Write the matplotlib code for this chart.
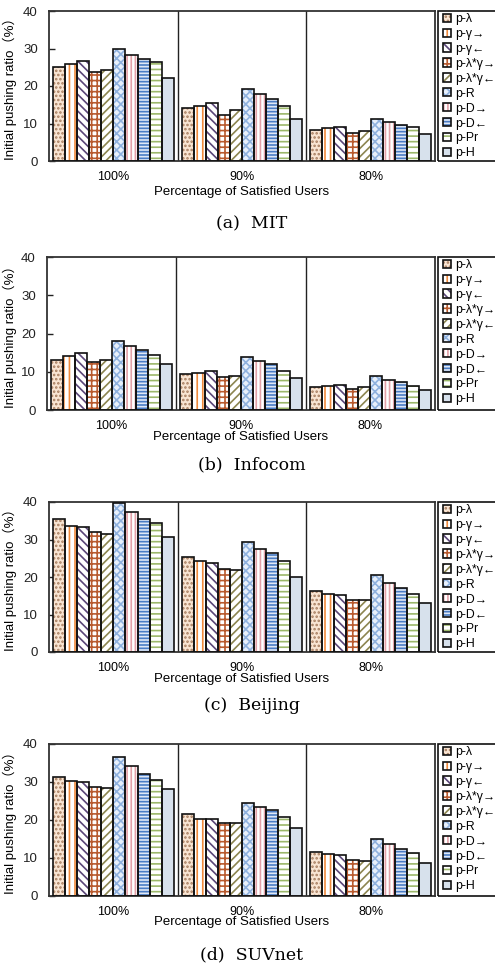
import matplotlib
matplotlib.use("Agg")
import matplotlib.pyplot as plt
from matplotlib.patches import Rectangle
from matplotlib.legend_handler import HandlerTuple
import numpy as np

plt.rcParams['font.family'] = ['Liberation Sans', 'DejaVu Sans']
plt.rcParams['hatch.linewidth'] = 1.2

# ---- data -------------------------------------------------------------
groups = ['100%', '90%', '80%']
methods = ['p-λ', 'p-γ→', 'p-γ←', 'p-λ*γ→', 'p-λ*γ←',
           'p-R', 'p-D→', 'p-D←', 'p-Pr', 'p-H']
yticks = [0, 10, 20, 30, 40]

# initial pushing ratio (%) per satisfied-user level, one row per group
mit = [[25.2, 26.0, 26.7, 23.7, 24.4, 29.8, 28.3, 27.2, 26.3, 22.2],
       [14.2, 14.8, 15.5, 12.3, 13.5, 19.1, 17.8, 16.6, 14.6, 11.2],
       [8.3, 8.9, 9.2, 7.5, 8.1, 11.1, 10.4, 9.6, 9.1, 7.1]]
infocom = [[13.2, 14.1, 14.8, 12.5, 13.2, 18.1, 16.7, 15.8, 14.3, 11.9],
           [9.3, 9.8, 10.3, 8.5, 9.0, 13.8, 12.8, 11.9, 10.2, 8.3],
           [5.9, 6.3, 6.6, 5.4, 5.9, 9.0, 7.8, 7.3, 6.4, 5.1]]
beijing = [[35.4, 33.6, 33.2, 32.1, 31.4, 39.7, 37.2, 35.6, 34.3, 30.6],
           [25.4, 24.2, 23.7, 22.1, 22.0, 29.4, 27.5, 26.3, 24.2, 20.1],
           [16.3, 15.4, 15.3, 13.9, 13.9, 20.5, 18.3, 17.0, 15.6, 13.2]]
suvnet = [[31.3, 30.2, 30.1, 28.7, 28.3, 36.6, 34.2, 32.1, 30.6, 28.1],
          [21.7, 20.2, 20.2, 19.2, 19.2, 24.4, 23.4, 22.6, 20.9, 18.0],
          [11.7, 11.0, 10.9, 9.4, 9.1, 15.0, 13.6, 12.3, 11.4, 8.6]]

# ---- bar styles -------------------------------------------------------
face_colors = ['#f8e4d2', 'white', 'white', 'white', 'white',
               '#e8f0fb', 'white', '#dfe8f6', 'white', '#d7e1ec']
hatch_colors = ['#a67c5e', '#f08a3c', '#5a4678', '#b85a2e', '#8c8550',
                '#8fb1de', '#e3a1a8', '#4a7cc4', '#9cb86a', '#d7e1ec']
hatches = ['....', '|||', '\\\\\\\\', '+++', '////',
           'xxxx', '||||', '-----', '---', '']

panels = [
    ('(a)  MIT', mit, (49, 11, 435, 161), 186, 224),
    ('(b)  Infocom', infocom, (47, 257, 435, 410), 431, 465),
    ('(c)  Beijing', beijing, (49, 502, 435, 652), 673, 706),
    ('(d)  SUVnet', suvnet, (49, 744, 435, 896), 916, 955),
]

W, H = 495, 969
fig = plt.figure(figsize=(W / 100, H / 100), dpi=100)

n = len(methods)
bw = 0.094
x = np.arange(len(groups))

for caption, data, (l, t, r, b), xl_top, cap_y in panels:
    ax = fig.add_axes([l / W, 1 - b / H, (r - l) / W, (b - t) / H])
    vals = np.array(data)
    handles = []
    for i in range(n):
        pos = x + (i - (n - 1) / 2) * bw
        fill = ax.bar(pos, vals[:, i], bw, color=face_colors[i],
                      edgecolor=hatch_colors[i], hatch=hatches[i],
                      linewidth=0, zorder=2)
        edge = ax.bar(pos, vals[:, i], bw, fill=False,
                      edgecolor='#111111', linewidth=1.2, zorder=3)
        handles.append((fill, edge))

    for sep in (0.5, 1.5):
        ax.axvline(sep, color='#222222', lw=1.0, zorder=1)

    ax.set_xlim(-0.5, 2.5)
    ax.set_ylim(0, 40)
    ax.set_yticks(yticks)
    ax.set_xticks(x)
    ax.set_xticklabels(groups)
    ax.tick_params(axis='x', length=0, pad=7, labelsize=9)
    ax.tick_params(axis='y', direction='in', length=4, width=1,
                   pad=8, labelsize=9.5, colors='#222222')
    for sp in ax.spines.values():
        sp.set_color('#333333')
        sp.set_linewidth(1.3)

    ax.set_ylabel('Initial pushing ratio（%）', fontsize=9.5,
                  family=['Liberation Sans', 'Noto Sans CJK SC'])
    ax.yaxis.set_label_coords((17 - l) / (r - l), 0.5)
    ax.set_xlabel('Percentage of Satisfied Users', fontsize=9.5)
    ax.xaxis.set_label_coords(0.5, -(xl_top - b) / (b - t))

    # legend frame running the full height of the plot
    fx = (438 - l) / (r - l)
    ax.add_patch(Rectangle((fx, 0), 0.4, 1.0, transform=ax.transAxes,
                           fill=False, lw=1.2, edgecolor='#111111',
                           clip_on=False))
    ax.legend(handles, methods,
              handler_map={tuple: HandlerTuple(ndivide=1, pad=0)},
              loc='upper left',
              bbox_to_anchor=((443 - l) / (r - l), 1 - 2 / (b - t)),
              frameon=False, borderpad=0, borderaxespad=0,
              fontsize=8.8, handlelength=0.65, handleheight=0.65,
              handletextpad=0.35, labelspacing=0.24)

    fig.text(252 / W, 1 - cap_y / H, caption, ha='center', va='center',
             fontsize=12.5, family='DejaVu Serif')

fig.savefig('out.png', dpi=100)
